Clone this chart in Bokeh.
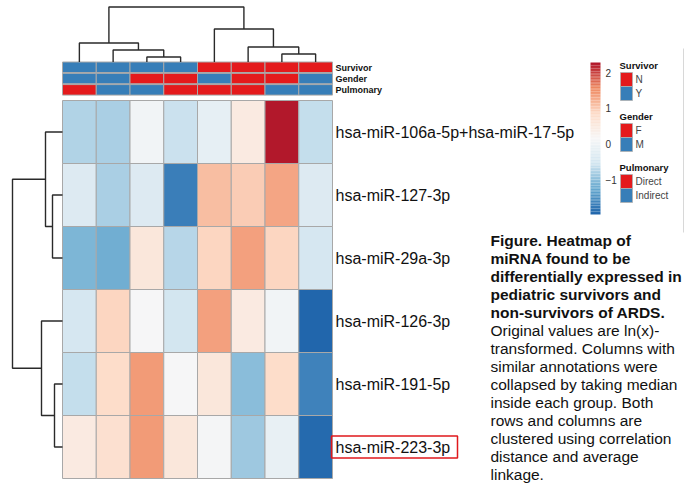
import numpy as np
from bokeh.plotting import figure
from bokeh.models import Range1d, LinearColorMapper, ColumnDataSource
from bokeh.transform import transform
from bokeh.embed import file_html
from bokeh.resources import INLINE
from bokeh.core.properties import value

# ---------------- data ----------------
mirnas = ["hsa-miR-106a-5p+hsa-miR-17-5p", "hsa-miR-127-3p", "hsa-miR-29a-3p",
          "hsa-miR-126-3p", "hsa-miR-191-5p", "hsa-miR-223-3p"]
mir_106a_17 = [-0.74, -0.78, 0.03, -0.60, -0.16, 0.46, 2.28, -0.62]
mir_127 = [-0.35, -0.80, -0.32, -1.71, 1.09, 0.98, 1.31, -0.35]
mir_29a = [-1.10, -1.17, 0.56, -0.72, 0.91, 1.36, 0.88, -0.48]
mir_126 = [-0.45, 0.90, 0.12, -0.52, 1.38, 0.46, 0.05, -1.97]
mir_191 = [-0.62, 0.80, 1.42, 0.12, 0.55, -1.03, 0.80, -1.65]
mir_223 = [0.46, 0.71, 1.42, 0.55, 0.10, -0.88, -0.12, -1.90]
values = [mir_106a_17, mir_127, mir_29a, mir_126, mir_191, mir_223]

survivor = ["Y", "Y", "Y", "Y", "N", "N", "N", "N"]
gender = ["M", "M", "F", "F", "M", "F", "F", "M"]
pulmonary = ["Direct", "Indirect", "Indirect", "Direct", "Direct", "Direct", "Indirect", "Indirect"]

# dendrogram merges (left id, right id, height); ids >= n are earlier merges
col_merges = [(2, 3, 5), (1, 8, 12), (0, 9, 19), (6, 7, 8), (5, 11, 15), (4, 12, 33), (10, 13, 55)]
row_merges = [(1, 2, 10), (0, 6, 17), (4, 5, 8), (3, 8, 21), (7, 9, 50)]

colorbar_ticks = [-1, 0, 1, 2]
highlight = "hsa-miR-223-3p"

caption_bold = ["Figure. Heatmap of", "miRNA found to be", "differentially expressed in",
                "pediatric survivors and", "non-survivors of ARDS."]
caption_normal = ["Original values are ln(x)-", "transformed. Columns with",
                  "similar annotations were", "collapsed by taking median",
                  "inside each group. Both", "rows and columns are",
                  "clustered using correlation", "distance and average", "linkage."]

# ---------------- styles / layout ----------------
RED = "#E41A1C"
BLUE = "#377EB8"
ann_colors = {"Survivor": {"N": RED, "Y": BLUE},
              "Gender": {"F": RED, "M": BLUE},
              "Pulmonary": {"Direct": RED, "Indirect": BLUE}}
rdbu7 = ["#2166AC", "#67A9CF", "#D1E5F0", "#F7F7F7", "#FDDBC7", "#EF8A62", "#B2182B"]


def interp_palette(cols, n):
    rgb = np.array([[int(c[i:i + 2], 16) for i in (1, 3, 5)] for c in cols], float)
    pos = np.linspace(0, 1, len(cols))
    t = np.linspace(0, 1, n)
    out = []
    for tt in t:
        r = [np.interp(tt, pos, rgb[:, k]) for k in range(3)]
        out.append("#%02x%02x%02x" % tuple(int(round(v)) for v in r))
    return out


palette = interp_palette(rdbu7, 100)

FONT = "Liberation Sans"
W, H = 687, 497
p = figure(width=W, height=H, output_backend="svg", toolbar_location=None,
           x_range=Range1d(0, W), y_range=Range1d(H, 0), min_border=0)
p.axis.visible = False
p.grid.visible = False
p.outline_line_color = None
p.background_fill_color = "white"
p.border_fill_color = "white"

ncol, nrow = 8, len(mirnas)
hx0, hx1 = 62.0, 332.0
hy0, hy1 = 100.0, 478.0
cw = (hx1 - hx0) / ncol
rh = (hy1 - hy0) / nrow

vals = np.array(values, float)
vmin, vmax = vals.min(), vals.max()
mapper = LinearColorMapper(palette=palette, low=vmin, high=vmax)

# heatmap cells
cells = dict(left=[], right=[], top=[], bottom=[], v=[])
for r in range(nrow):
    for c in range(ncol):
        cells["left"].append(hx0 + c * cw)
        cells["right"].append(hx0 + (c + 1) * cw)
        cells["top"].append(hy0 + r * rh)
        cells["bottom"].append(hy0 + (r + 1) * rh)
        cells["v"].append(vals[r, c])
p.quad(left="left", right="right", top="top", bottom="bottom", source=ColumnDataSource(cells),
       fill_color=transform("v", mapper), line_color="#A8A8A8", line_width=1)

# annotation bars
ann_rows = [("Survivor", survivor), ("Gender", gender), ("Pulmonary", pulmonary)]
a_top0, a_h, a_gap = 61.5, 10.5, 0.8
ann = dict(left=[], right=[], top=[], bottom=[], color=[])
for i, (name, lev) in enumerate(ann_rows):
    t = a_top0 + i * (a_h + a_gap)
    for c, l in enumerate(lev):
        ann["left"].append(hx0 + c * cw)
        ann["right"].append(hx0 + (c + 1) * cw)
        ann["top"].append(t)
        ann["bottom"].append(t + a_h)
        ann["color"].append(ann_colors[name][l])
    p.text(x=[hx1 + 3], y=[t + a_h / 2 + 0.5], text=[name], text_font=value(FONT),
           text_font_size="9px", text_font_style="bold",
           text_baseline="middle", text_align="left", text_color="#111111")
p.quad(left="left", right="right", top="top", bottom="bottom", source=ColumnDataSource(ann),
       fill_color="color", line_color="#A8A8A8", line_width=1)

# row labels
p.text(x=[hx1 + 3] * nrow, y=[hy0 + (r + 0.5) * rh for r in range(nrow)], text=mirnas,
       text_font=value(FONT), text_font_size="16px", text_baseline="middle",
       text_align="left", text_color="#111111")

# highlight box
hr = mirnas.index(highlight)
hy = hy0 + (hr + 0.5) * rh
p.quad(left=[hx1 - 1], right=[457], top=[hy - 11], bottom=[hy + 11], fill_alpha=0,
       line_color="#E0181C", line_width=1.5)


# dendrograms
def dendro(merges, n, leaf_pos):
    pos = {i: leaf_pos(i) for i in range(n)}
    hgt = {i: 0.0 for i in range(n)}
    segs = []
    for k, (a, b, h) in enumerate(merges):
        nid = n + k
        segs.append(([pos[a], pos[a], pos[b], pos[b]], [hgt[a], h, h, hgt[b]]))
        pos[nid] = (pos[a] + pos[b]) / 2
        hgt[nid] = h
    return segs


col_segs = dendro(col_merges, ncol, lambda i: hx0 + (i + 0.5) * cw)
p.multi_line(xs=[s[0] for s in col_segs], ys=[[a_top0 - h for h in s[1]] for s in col_segs],
             line_color="#2a2a2a", line_width=1.4)
row_segs = dendro(row_merges, nrow, lambda i: hy0 + (i + 0.5) * rh)
p.multi_line(xs=[[hx0 - h for h in s[1]] for s in row_segs], ys=[s[0] for s in row_segs],
             line_color="#2a2a2a", line_width=1.4)

# color bar
cb_x0, cb_x1, cb_top, cb_bot = 590, 600, 62, 214
nseg = 100
cvals = np.linspace(vmin, vmax, nseg)
edges = np.linspace(cb_bot, cb_top, nseg + 1)
cb_src = ColumnDataSource(dict(left=[cb_x0] * nseg, right=[cb_x1] * nseg,
                               bottom=list(edges[:-1]), top=list(edges[1:]), v=list(cvals)))
p.quad(left="left", right="right", bottom="bottom", top="top",
       fill_color=transform("v", mapper), line_color=None, source=cb_src)


def cb_y(v):
    return cb_bot - (v - vmin) / (vmax - vmin) * (cb_bot - cb_top)


p.text(x=[605] * len(colorbar_ticks), y=[cb_y(v) for v in colorbar_ticks],
       text=[("\u2212%d" % -v) if v < 0 else str(v) for v in colorbar_ticks],
       text_font=value(FONT), text_font_size="10px", text_baseline="middle",
       text_align="left", text_color="#333333")

# annotation legend
lg_x0, sw_w, sw_h = 620, 12, 14
lg_titles_y = [65, 116, 167]
leg_levels = [("Survivor", ["N", "Y"]), ("Gender", ["F", "M"]), ("Pulmonary", ["Direct", "Indirect"])]
sw = dict(left=[], right=[], top=[], bottom=[], color=[])
lab = dict(x=[], y=[], text=[])
for (name, levs), ty in zip(leg_levels, lg_titles_y):
    p.text(x=[lg_x0 - 1], y=[ty], text=[name], text_font=value(FONT), text_font_size="9.5px",
           text_font_style="bold", text_baseline="middle", text_align="left", text_color="#111111")
    for j, l in enumerate(levs):
        t = ty + 7 + j * sw_h
        sw["left"].append(lg_x0)
        sw["right"].append(lg_x0 + sw_w)
        sw["top"].append(t)
        sw["bottom"].append(t + sw_h)
        sw["color"].append(ann_colors[name][l])
        lab["x"].append(lg_x0 + sw_w + 3)
        lab["y"].append(t + sw_h / 2)
        lab["text"].append(l)
p.quad(left="left", right="right", top="top", bottom="bottom", source=ColumnDataSource(sw),
       fill_color="color", line_color="#B0B0B0", line_width=0.8)
p.text(x="x", y="y", text="text", source=ColumnDataSource(lab), text_font=value(FONT),
       text_font_size="10px", text_baseline="middle", text_align="left", text_color="#444444")

# faint frame edge on the right
p.segment(x0=[683], y0=[48], x1=[683], y1=[232], line_color="#D8D8D8", line_width=1)

# caption
cap_x, cap_y0, cap_dy = 490, 240, 18.0
lines = caption_bold + caption_normal
for i, ln in enumerate(lines):
    p.text(x=[cap_x], y=[cap_y0 + i * cap_dy], text=[ln], text_font=value(FONT),
           text_font_size="15.5px", text_font_style="bold" if i < len(caption_bold) else "normal",
           text_baseline="middle", text_align="left", text_color="#111111")

open("out.html", "w").write(file_html(p, INLINE))
